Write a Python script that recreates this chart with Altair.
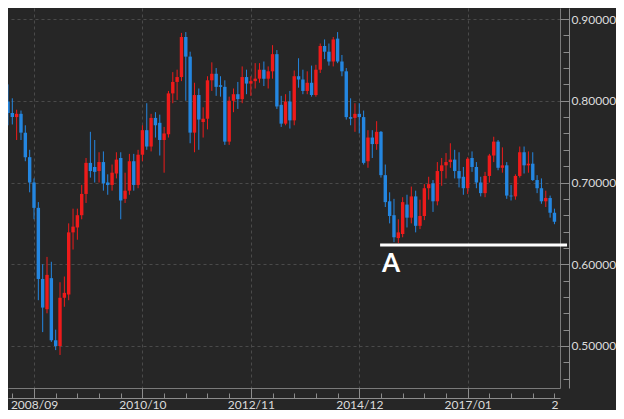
import altair as alt
import pandas as pd

# ---- data (monthly candles, index 0 = 2008/01) ----
start_month = "2008-01"
opens = [0.785, 0.787, 0.799, 0.785, 0.780, 0.784, 0.761, 0.731, 0.700, 0.669,
         0.582, 0.545, 0.583, 0.507, 0.500, 0.559, 0.563, 0.639, 0.645, 0.660,
         0.686, 0.724, 0.719, 0.714, 0.725, 0.700, 0.697, 0.711, 0.730, 0.680,
         0.690, 0.726, 0.697, 0.734, 0.764, 0.744, 0.779, 0.773, 0.752, 0.759,
         0.809, 0.823, 0.829, 0.878, 0.854, 0.761, 0.807, 0.774, 0.778, 0.825,
         0.833, 0.819, 0.817, 0.750, 0.800, 0.808, 0.802, 0.829, 0.821, 0.824,
         0.827, 0.838, 0.827, 0.836, 0.857, 0.795, 0.772, 0.799, 0.776, 0.830,
         0.826, 0.812, 0.822, 0.807, 0.838, 0.867, 0.860, 0.848, 0.876, 0.848,
         0.836, 0.780, 0.779, 0.784, 0.780, 0.726, 0.755, 0.747, 0.762, 0.709,
         0.677, 0.660, 0.632, 0.637, 0.673, 0.657, 0.683, 0.647, 0.659, 0.693,
         0.699, 0.677, 0.714, 0.721, 0.725, 0.728, 0.714, 0.707, 0.693, 0.730,
         0.719, 0.700, 0.687, 0.708, 0.733, 0.750, 0.718, 0.721, 0.684, 0.683,
         0.708, 0.737, 0.721, 0.723, 0.703, 0.693, 0.677, 0.681, 0.663]
closes = [0.797, 0.799, 0.785, 0.780, 0.784, 0.761, 0.731, 0.700, 0.669, 0.582,
          0.547, 0.587, 0.507, 0.500, 0.559, 0.565, 0.639, 0.646, 0.660, 0.686,
          0.724, 0.714, 0.713, 0.725, 0.699, 0.697, 0.712, 0.728, 0.678, 0.690,
          0.726, 0.697, 0.734, 0.764, 0.744, 0.779, 0.770, 0.752, 0.760, 0.809,
          0.823, 0.829, 0.878, 0.854, 0.761, 0.807, 0.777, 0.778, 0.825, 0.833,
          0.817, 0.817, 0.750, 0.800, 0.808, 0.802, 0.829, 0.821, 0.824, 0.827,
          0.838, 0.827, 0.836, 0.857, 0.793, 0.772, 0.799, 0.776, 0.830, 0.826,
          0.812, 0.822, 0.807, 0.838, 0.867, 0.860, 0.848, 0.875, 0.848, 0.836,
          0.780, 0.778, 0.784, 0.780, 0.724, 0.755, 0.747, 0.762, 0.709, 0.676,
          0.659, 0.633, 0.639, 0.676, 0.657, 0.683, 0.647, 0.659, 0.693, 0.698,
          0.677, 0.714, 0.721, 0.725, 0.728, 0.714, 0.705, 0.693, 0.729, 0.719,
          0.700, 0.687, 0.708, 0.733, 0.750, 0.718, 0.721, 0.684, 0.683, 0.708,
          0.737, 0.721, 0.723, 0.703, 0.693, 0.677, 0.681, 0.663, 0.652]
highs = [0.805, 0.821, 0.820, 0.803, 0.789, 0.788, 0.770, 0.740, 0.705, 0.676,
         0.600, 0.609, 0.603, 0.520, 0.578, 0.585, 0.650, 0.668, 0.668, 0.697,
         0.730, 0.762, 0.752, 0.737, 0.738, 0.710, 0.722, 0.737, 0.737, 0.712,
         0.735, 0.735, 0.740, 0.770, 0.797, 0.784, 0.786, 0.783, 0.768, 0.812,
         0.835, 0.838, 0.883, 0.884, 0.860, 0.822, 0.815, 0.792, 0.830, 0.847,
         0.840, 0.830, 0.825, 0.805, 0.815, 0.823, 0.842, 0.838, 0.830, 0.846,
         0.846, 0.848, 0.842, 0.868, 0.862, 0.806, 0.808, 0.812, 0.837, 0.852,
         0.838, 0.836, 0.843, 0.844, 0.870, 0.875, 0.870, 0.878, 0.884, 0.856,
         0.840, 0.803, 0.797, 0.797, 0.788, 0.764, 0.764, 0.775, 0.763, 0.722,
         0.688, 0.680, 0.655, 0.682, 0.685, 0.695, 0.690, 0.679, 0.698, 0.707,
         0.703, 0.725, 0.730, 0.736, 0.748, 0.740, 0.737, 0.719, 0.731, 0.738,
         0.725, 0.707, 0.713, 0.735, 0.756, 0.752, 0.743, 0.725, 0.697, 0.710,
         0.744, 0.744, 0.738, 0.737, 0.709, 0.705, 0.690, 0.684, 0.668]
lows = [0.770, 0.779, 0.770, 0.771, 0.752, 0.752, 0.726, 0.688, 0.655, 0.556,
        0.517, 0.540, 0.505, 0.495, 0.489, 0.548, 0.556, 0.618, 0.630, 0.655,
        0.675, 0.706, 0.700, 0.700, 0.690, 0.685, 0.690, 0.705, 0.655, 0.675,
        0.685, 0.690, 0.693, 0.726, 0.740, 0.738, 0.755, 0.733, 0.712, 0.755,
        0.797, 0.801, 0.824, 0.800, 0.748, 0.737, 0.740, 0.755, 0.765, 0.812,
        0.806, 0.805, 0.746, 0.746, 0.786, 0.790, 0.797, 0.808, 0.806, 0.815,
        0.822, 0.818, 0.815, 0.827, 0.790, 0.768, 0.770, 0.766, 0.770, 0.816,
        0.808, 0.808, 0.805, 0.805, 0.834, 0.851, 0.843, 0.842, 0.846, 0.830,
        0.777, 0.770, 0.762, 0.760, 0.722, 0.718, 0.730, 0.740, 0.706, 0.670,
        0.650, 0.627, 0.626, 0.633, 0.645, 0.650, 0.639, 0.643, 0.654, 0.679,
        0.664, 0.672, 0.696, 0.705, 0.718, 0.705, 0.694, 0.685, 0.686, 0.713,
        0.693, 0.683, 0.682, 0.700, 0.725, 0.715, 0.712, 0.680, 0.678, 0.679,
        0.706, 0.711, 0.712, 0.702, 0.687, 0.674, 0.670, 0.657, 0.649]

x_major_values = [8, 33, 58, 83, 108, 128]
x_major_labels = ["2008/09", "2010/10", "2012/11", "2014/12", "2017/01", "2"]
x_minor_values = list(range(3, 129, 5))
y_major_values = [0.5, 0.6, 0.7, 0.8, 0.9]
y_minor_values = [0.46, 0.48, 0.50, 0.52, 0.54, 0.56, 0.58, 0.60, 0.62, 0.64,
                  0.66, 0.68, 0.70, 0.72, 0.74, 0.76, 0.78, 0.80, 0.82, 0.84,
                  0.86, 0.88, 0.90]

support_level = [0.6236]
support_start = [87.8]
support_end = [130.9]
note_text = ["A"]
note_x = [90.3]
note_y = [0.5905]

UP = "#ee1b1b"
DOWN = "#2486e0"
BG = "#262626"
GRID = "#4a4a4a"
FRAME = "#7a7a7a"
OUTER = "#8c8c8c"
TEXT = "#dcdcdc"

months = pd.period_range(start_month, periods=len(opens), freq="M").strftime("%Y/%m")
df = pd.DataFrame({
    "i": list(range(len(opens))),
    "month": list(months),
    "open": opens, "high": highs, "low": lows, "close": closes,
})
df["color"] = [UP if c >= o else DOWN for o, c in zip(opens, closes)]

xs = alt.Scale(domain=[2.005, 129.28], nice=False, zero=False, padding=0)
ys = alt.Scale(domain=[0.44862, 0.91346], nice=False, zero=False)

label_expr = "{}[indexof({}, datum.value)]".format(
    "[" + ",".join("'" + s + "'" for s in x_major_labels) + "]",
    "[" + ",".join(str(v) for v in x_major_values) + "]",
)

x_axis_main = alt.Axis(
    orient="bottom", values=x_major_values, labelExpr=label_expr,
    grid=True, gridColor=GRID, gridDash=[3, 3],
    gridOpacity={"condition": {"test": "datum.value > 120", "value": 0}, "value": 1},
    ticks=False, tickSize=0, domain=True, domainColor=FRAME,
    labelColor=TEXT, labelFont="Lato", labelFontSize=12, labelPadding=11,
    labelFlush=False, labelOverlap=False, title=None,
)
y_axis_main = alt.Axis(
    orient="right", values=y_major_values, format=".5f",
    grid=True, gridColor=GRID, gridDash=[3, 3],
    ticks=False, tickSize=0, domain=True, domainColor=FRAME,
    labelColor=TEXT, labelFont="Lato", labelFontSize=12, labelPadding=11,
    labelFlush=False, title=None,
)
x_axis_ticks = alt.Axis(
    orient="top", offset=-390, values=x_minor_values, labels=False, grid=False,
    domain=True, domainColor=OUTER, ticks=True, tickColor=OUTER,
    tickSize={"condition": {"test": "(datum.value - 8) % 25 == 0", "value": 10}, "value": 5},
    title=None,
)
y_axis_ticks = alt.Axis(
    orient="left", offset=-561, values=y_minor_values, labels=False, grid=False,
    domain=True, domainColor=OUTER, ticks=True, tickColor=OUTER,
    tickSize={"condition": {"test": "round(datum.value * 100) % 10 == 0", "value": 9}, "value": 6},
    title=None,
)

base = alt.Chart(df)

wicks = base.mark_rule(strokeWidth=1, clip=True).encode(
    x=alt.X("i:Q", scale=xs, axis=x_axis_main),
    y=alt.Y("low:Q", scale=ys, axis=y_axis_main),
    y2="high:Q",
    color=alt.Color("color:N", scale=None),
)
bodies = base.mark_bar(size=3.4, clip=True).encode(
    x=alt.X("i:Q", scale=xs, axis=None),
    y=alt.Y("open:Q", scale=ys, axis=None),
    y2="close:Q",
    color=alt.Color("color:N", scale=None),
)

support_df = pd.DataFrame({"x": support_start, "x2": support_end, "y": support_level})
tick_layer = alt.Chart(support_df).mark_point(opacity=0, size=1).encode(
    x=alt.X("x:Q", scale=xs, axis=x_axis_ticks),
    y=alt.Y("y:Q", scale=ys, axis=y_axis_ticks),
)
support = alt.Chart(support_df).mark_rule(color="#ffffff", strokeWidth=3).encode(
    x=alt.X("x:Q", scale=xs, axis=None),
    x2="x2:Q",
    y=alt.Y("y:Q", scale=ys, axis=None),
)

note_df = pd.DataFrame({"x": note_x, "y": note_y, "t": note_text})
note = alt.Chart(note_df).mark_text(
    font="Lato", fontSize=26, fontWeight="bold", color="#ffffff",
    align="center", baseline="alphabetic",
).encode(
    x=alt.X("x:Q", scale=xs, axis=None),
    y=alt.Y("y:Q", scale=ys, axis=None),
    text="t:N",
)

chart = (
    alt.layer(wicks, bodies, tick_layer, support, note)
    .resolve_axis(x="independent", y="independent")
    .properties(width=552, height=380, padding=0, background=BG)
    .configure_view(strokeWidth=0, fill=BG)
)

chart.save("out.html", embed_options={"renderer": "svg", "actions": False})
